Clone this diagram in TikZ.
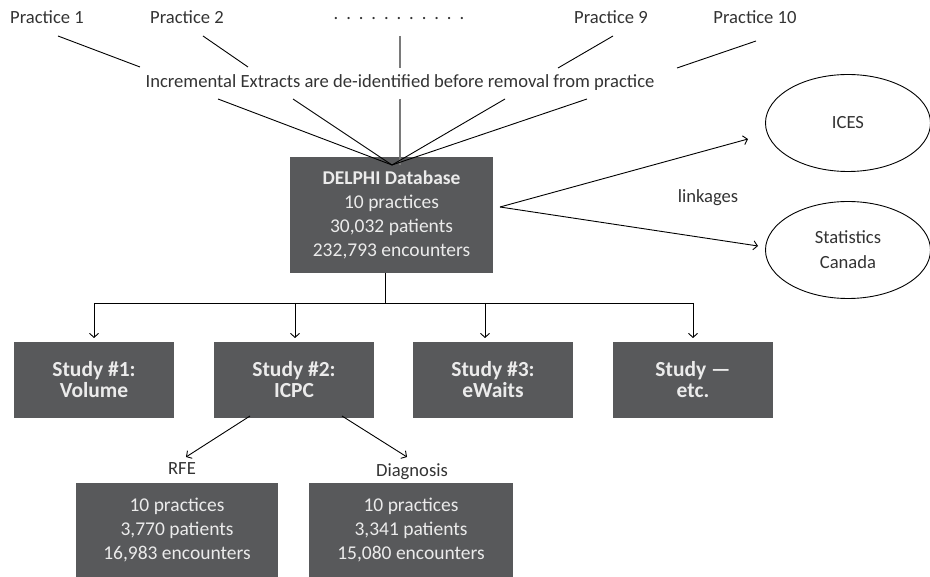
\documentclass[tikz,border=0pt]{standalone}
\usepackage{fontspec}
\setmainfont{Carlito}
\usetikzlibrary{arrows.meta,shapes.geometric}
\definecolor{boxgray}{HTML}{58595B}
\definecolor{boxtext}{HTML}{EBEBEB}
\definecolor{ink}{HTML}{333333}
\definecolor{vline}{HTML}{7A7A7A}
\tikzset{
  lbl/.style={text=ink, font=\fontsize{18.6}{22}\selectfont, inner sep=0pt},
  darkbox/.style={fill=boxgray, text=boxtext, align=center, inner sep=0pt,
    font=\fontsize{19.5}{24}\selectfont},
  studybox/.style={darkbox, minimum width=160pt, minimum height=76pt, font=\fontsize{21.5}{21}\selectfont\bfseries},
  conn/.style={draw=black, line width=0.9pt},
  arr/.style={conn, -{Straight Barb[length=4pt,width=9pt]}},
  ell/.style={draw=black, line width=0.9pt, ellipse, minimum width=165pt, minimum height=97pt, text=ink, align=center, font=\fontsize{18.6}{25}\selectfont},
}
\newcommand{\dotgap}{\hspace{7.9pt}}
\begin{document}
\begin{tikzpicture}[x=1pt,y=-1pt]
\useasboundingbox (0,0) rectangle (930,577);
% top labels
\node[lbl] (p1) at (47,17) {Practice 1};
\node[lbl] (p2) at (187,17) {Practice 2};
\node[lbl] (dots) at (399,19) {.\dotgap.\dotgap.\dotgap.\dotgap.\dotgap.\dotgap.\dotgap.\dotgap.\dotgap.\dotgap.};
\node[lbl] (p9) at (611,17) {Practice 9};
\node[lbl] (p10) at (755,17) {Practice 10};
\node[lbl] (inc) at (400,83) {Incremental Extracts are de-identified before removal from practice};
% upper coordinates
\coordinate (a1) at (58,36);  \coordinate (b1) at (140,67);
\coordinate (a2) at (203,36); \coordinate (b2) at (248,67);
\coordinate (a3) at (400,36); \coordinate (b3) at (400,68);
\coordinate (a4) at (613,36); \coordinate (b4) at (558,68);
\coordinate (a5) at (756,41); \coordinate (b5) at (677,68);
\coordinate (c1) at (218,99); \coordinate (c2) at (293,99);
\coordinate (c3) at (400,99); \coordinate (c4) at (505,99);
\coordinate (c5) at (587,99);
% DELPHI
\node[darkbox, minimum width=203pt, minimum height=116pt] (db) at (391.5,215)
  {\textbf{DELPHI Database}\\10 practices\\30,032 patients\\232,793 encounters};
\coordinate (conv) at (392,165);
\coordinate (convv) at (400,165);
\draw[conn] (a1) -- (b1);
\draw[conn] (a2) -- (b2);
\draw[conn, draw=vline, line width=1.3pt] (a3) -- (b3);
\draw[conn] (a4) -- (b4);
\draw[conn] (a5) -- (b5);
\draw[conn] (c1) -- (conv);
\draw[conn] (c2) -- (conv);
\draw[conn, draw=vline, line width=1.3pt] (c3) -- (convv);
\draw[conn] (c4) -- (conv);
\draw[conn] (c5) -- (conv);
% linkages
\node[ell] (ices) at (848,123) {ICES};
\node[ell] (stat) at (848,250) {Statistics\\Canada};
\coordinate (lk) at (500,207);
\coordinate (ti) at (748,139);
\coordinate (ts) at (758,246);
\draw[arr] (lk) -- (ti);
\draw[arr] (lk) -- (ts);
\node[lbl] (link) at (708,198) {linkages};
% studies
\node[studybox] (s1) at (94,380) {Study \#1:\\Volume};
\node[studybox] (s2) at (294,380) {Study \#2:\\ICPC};
\node[studybox] (s3) at (493,380) {Study \#3:\\eWaits};
\node[studybox] (s4) at (693,380) {Study ---\\etc.};
\coordinate (t0) at (385,273);
\coordinate (t1) at (385,303);
\coordinate (h1) at (94,303);
\coordinate (h2) at (295,303);
\coordinate (h3) at (485,303);
\coordinate (h4) at (693,303);
\coordinate (e1) at (94,338);
\coordinate (e2) at (295,338);
\coordinate (e3) at (485,338);
\coordinate (e4) at (693,338);
\draw[conn] (t0) -- (t1);
\draw[conn] (h1) -- (h4);
\draw[arr] (h1) -- (e1);
\draw[arr] (h2) -- (e2);
\draw[arr] (h3) -- (e3);
\draw[arr] (h4) -- (e4);
% sub
\coordinate (r0) at (250,416); \coordinate (r1) at (186,457);
\coordinate (d0) at (342,416); \coordinate (d1) at (407,457);
\draw[arr] (r0) -- (r1);
\draw[arr] (d0) -- (d1);
\node[lbl] (rfe) at (182,469) {RFE};
\node[lbl] (diag) at (412,472) {Diagnosis};
\node[darkbox, minimum width=202pt, minimum height=94pt] (rb) at (177,530)
  {10 practices\\3,770 patients\\16,983 encounters};
\node[darkbox, minimum width=204pt, minimum height=94pt] (dbx) at (411,530)
  {10 practices\\3,341 patients\\15,080 encounters};
\end{tikzpicture}
\end{document}
